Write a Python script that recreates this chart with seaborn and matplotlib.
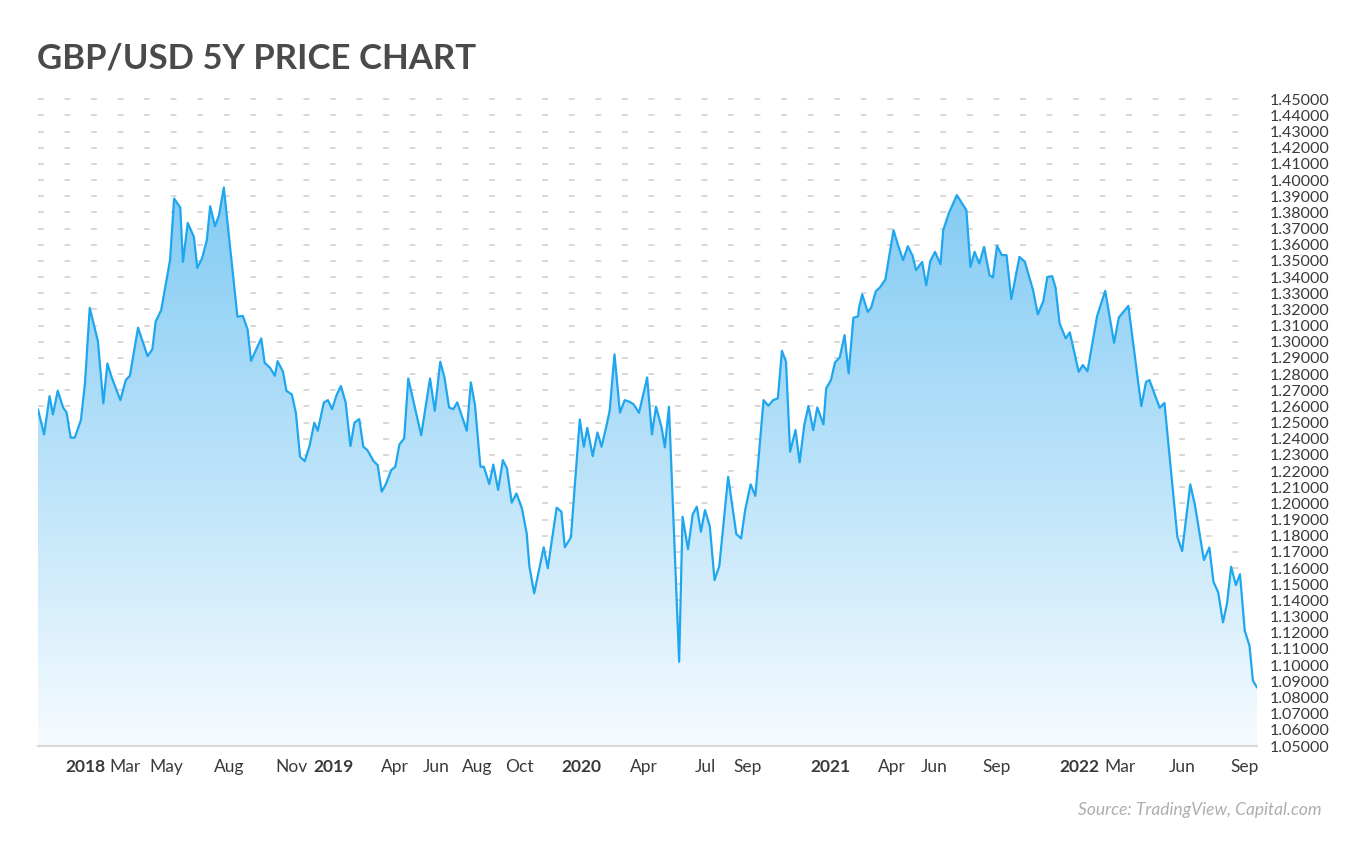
import numpy as np
import pandas as pd
import matplotlib
matplotlib.use("Agg")
import matplotlib.pyplot as plt
import matplotlib.dates as mdates
from matplotlib.colors import LinearSegmentedColormap
from matplotlib.ticker import FormatStrFormatter
import seaborn as sns

###########################
# DATA (weekly-ish turning points)
###########################

dates = [
    "2017-10-24", "2017-11-02", "2017-11-10", "2017-11-15", "2017-11-22", "2017-11-30",
    "2017-12-05", "2017-12-11", "2017-12-17", "2017-12-26", "2018-01-01", "2018-01-08",
    "2018-01-20", "2018-01-28", "2018-02-03", "2018-02-09", "2018-02-22", "2018-03-02",
    "2018-03-08", "2018-03-20", "2018-04-03", "2018-04-10", "2018-04-15", "2018-04-23",
    "2018-05-06", "2018-05-12", "2018-05-21", "2018-05-25", "2018-06-01", "2018-06-10",
    "2018-06-15", "2018-06-22", "2018-06-29", "2018-07-04", "2018-07-11", "2018-07-17",
    "2018-07-24", "2018-08-13", "2018-08-21", "2018-08-28", "2018-09-02", "2018-09-17",
    "2018-09-22", "2018-09-30", "2018-10-07", "2018-10-11", "2018-10-19", "2018-10-24",
    "2018-11-01", "2018-11-07", "2018-11-13", "2018-11-20", "2018-11-27", "2018-12-04",
    "2018-12-09", "2018-12-18", "2018-12-24", "2018-12-30", "2019-01-06", "2019-01-12",
    "2019-01-19", "2019-01-26", "2019-02-01", "2019-02-08", "2019-02-14", "2019-02-20",
    "2019-03-01", "2019-03-07", "2019-03-13", "2019-03-19", "2019-03-27", "2019-04-02",
    "2019-04-08", "2019-04-15", "2019-04-21", "2019-05-10", "2019-05-23", "2019-05-30",
    "2019-06-07", "2019-06-13", "2019-06-20", "2019-06-26", "2019-07-02", "2019-07-16",
    "2019-07-22", "2019-07-28", "2019-08-05", "2019-08-10", "2019-08-18", "2019-08-24",
    "2019-08-31", "2019-09-07", "2019-09-13", "2019-09-20", "2019-09-27", "2019-10-05",
    "2019-10-12", "2019-10-16", "2019-10-23", "2019-11-06", "2019-11-12", "2019-11-25",
    "2019-12-02", "2019-12-07", "2019-12-16", "2019-12-29", "2020-01-04", "2020-01-09",
    "2020-01-17", "2020-01-24", "2020-01-30", "2020-02-07", "2020-02-11", "2020-02-18",
    "2020-02-26", "2020-03-04", "2020-03-11", "2020-03-17", "2020-03-25", "2020-04-06",
    "2020-04-13", "2020-04-19", "2020-04-27", "2020-05-02", "2020-05-08", "2020-05-23",
    "2020-05-28", "2020-06-05", "2020-06-12", "2020-06-18", "2020-06-24", "2020-06-30",
    "2020-07-07", "2020-07-14", "2020-07-21", "2020-08-03", "2020-08-15", "2020-08-22",
    "2020-08-28", "2020-09-05", "2020-09-12", "2020-09-24", "2020-10-01", "2020-10-08",
    "2020-10-15", "2020-10-21", "2020-10-27", "2020-11-02", "2020-11-10", "2020-11-16",
    "2020-11-23", "2020-11-29", "2020-12-06", "2020-12-12", "2020-12-21", "2020-12-25",
    "2021-01-01", "2021-01-07", "2021-01-14", "2021-01-21", "2021-01-27", "2021-02-03",
    "2021-02-10", "2021-02-11", "2021-02-16", "2021-02-24", "2021-03-01", "2021-03-05",
    "2021-03-08", "2021-03-14", "2021-03-22", "2021-03-28", "2021-04-03", "2021-04-10",
    "2021-04-17", "2021-04-24", "2021-05-01", "2021-05-06", "2021-05-15", "2021-05-21",
    "2021-05-27", "2021-06-03", "2021-06-11", "2021-06-15", "2021-06-23", "2021-07-05",
    "2021-07-19", "2021-07-25", "2021-07-31", "2021-08-07", "2021-08-14", "2021-08-22",
    "2021-08-27", "2021-09-02", "2021-09-09", "2021-09-16", "2021-09-23", "2021-10-05",
    "2021-10-13", "2021-10-25", "2021-11-01", "2021-11-09", "2021-11-15", "2021-11-22",
    "2021-11-27", "2021-12-03", "2021-12-12", "2021-12-18", "2021-12-31", "2022-01-06",
    "2022-01-13", "2022-01-27", "2022-02-08", "2022-02-21", "2022-02-28", "2022-03-14",
    "2022-04-02", "2022-04-09", "2022-04-14", "2022-04-29", "2022-05-06", "2022-05-25",
    "2022-06-01", "2022-06-13", "2022-06-20", "2022-07-03", "2022-07-11", "2022-07-17",
    "2022-07-24", "2022-07-31", "2022-08-06", "2022-08-12", "2022-08-19", "2022-08-25",
    "2022-09-01", "2022-09-08", "2022-09-13", "2022-09-19",
]

price = [
    1.2582, 1.2427, 1.2664, 1.2551, 1.2697, 1.2592,
    1.2563, 1.2407, 1.2407, 1.2515, 1.2742, 1.3210,
    1.3004, 1.2619, 1.2866, 1.2783, 1.2639, 1.2763,
    1.2790, 1.3087, 1.2911, 1.2954, 1.3127, 1.3196,
    1.3505, 1.3886, 1.3830, 1.3494, 1.3735, 1.3649,
    1.3457, 1.3515, 1.3628, 1.3838, 1.3715, 1.3783,
    1.3954, 1.3155, 1.3160, 1.3076, 1.2882, 1.3021,
    1.2870, 1.2839, 1.2790, 1.2880, 1.2814, 1.2697,
    1.2674, 1.2557, 1.2289, 1.2262, 1.2357, 1.2499,
    1.2450, 1.2625, 1.2639, 1.2583, 1.2674, 1.2726,
    1.2625, 1.2355, 1.2500, 1.2522, 1.2351, 1.2330,
    1.2262, 1.2237, 1.2073, 1.2118, 1.2207, 1.2227,
    1.2365, 1.2402, 1.2773, 1.2422, 1.2773, 1.2573,
    1.2876, 1.2783, 1.2594, 1.2583, 1.2625, 1.2450,
    1.2749, 1.2608, 1.2227, 1.2227, 1.2120, 1.2240,
    1.2084, 1.2268, 1.2217, 1.2005, 1.2062, 1.1970,
    1.1815, 1.1609, 1.1444, 1.1729, 1.1600, 1.1974,
    1.1949, 1.1729, 1.1791, 1.2520, 1.2351, 1.2468,
    1.2293, 1.2439, 1.2351, 1.2495, 1.2577, 1.2922,
    1.2561, 1.2639, 1.2629, 1.2614, 1.2561, 1.2779,
    1.2427, 1.2599, 1.2474, 1.2347, 1.2599, 1.1021,
    1.1918, 1.1718, 1.1934, 1.1980, 1.1825, 1.1959,
    1.1860, 1.1526, 1.1613, 1.2165, 1.1811, 1.1784,
    1.1959, 1.2118, 1.2047, 1.2639, 1.2604, 1.2639,
    1.2650, 1.2944, 1.2876, 1.2320, 1.2454, 1.2254,
    1.2489, 1.2602, 1.2454, 1.2594, 1.2489, 1.2711,
    1.2763, 1.2872, 1.2903, 1.3041, 1.2804, 1.3148,
    1.3158, 1.3205, 1.3293, 1.3185, 1.3210, 1.3268,
    1.3313, 1.3336, 1.3385, 1.3540, 1.3690, 1.3592,
    1.3505, 1.3591, 1.3532, 1.3443, 1.3494, 1.3350,
    1.3500, 1.3556, 1.3480, 1.3690, 1.3793, 1.3907,
    1.3814, 1.3463, 1.3556, 1.3484, 1.3587, 1.3412,
    1.3398, 1.3594, 1.3536, 1.3536, 1.3264, 1.3525,
    1.3494, 1.3319, 1.3169, 1.3251, 1.3401, 1.3406,
    1.3336, 1.3113, 1.3021, 1.3058, 1.2814, 1.2856,
    1.2818, 1.3158, 1.3315, 1.2994, 1.3150, 1.3222,
    1.2602, 1.2752, 1.2763, 1.2592, 1.2622, 1.1794,
    1.1706, 1.2118, 1.1986, 1.1650, 1.1728, 1.1516,
    1.1450, 1.1265, 1.1382, 1.1609, 1.1495, 1.1563,
    1.1213, 1.1120, 1.0904, 1.0862,
]

tick_dates = ["2018-01-01", "2018-03-01", "2018-05-01", "2018-08-01", "2018-11-01",
              "2019-01-01", "2019-04-01", "2019-06-01", "2019-08-01", "2019-10-01",
              "2020-01-01", "2020-04-01", "2020-07-01", "2020-09-01",
              "2021-01-01", "2021-04-01", "2021-06-01", "2021-09-01",
              "2022-01-01", "2022-03-01", "2022-06-01", "2022-09-01"]
tick_labels = ["2018", "Mar", "May", "Aug", "Nov",
               "2019", "Apr", "Jun", "Aug", "Oct",
               "2020", "Apr", "Jul", "Sep",
               "2021", "Apr", "Jun", "Sep",
               "2022", "Mar", "Jun", "Sep"]
y_ticks = np.round(np.arange(1.05, 1.4501, 0.01), 2)

df = pd.DataFrame({"date": pd.to_datetime(dates), "price": price})

###########################
# PLOT
###########################

sns.set_style("white")
plt.rcParams["font.family"] = ["Lato", "DejaVu Sans"]

line_col = "#1ea6ef"
fig = plt.figure(figsize=(13.5, 8.47), dpi=100)
ax = fig.add_axes([38 / 1350, 1 - 746 / 847, (1257 - 38) / 1350, 650 / 847])

# gradient fill under the line
fill = ax.fill_between(df["date"], df["price"], 1.05, facecolor="none", edgecolor="none")
x_num = mdates.date2num(df["date"])
cmap = LinearSegmentedColormap.from_list("blue_fade", ["#f6fbff", "#b9e2f9", "#82caf4"])
img = ax.imshow(np.linspace(0, 1, 256).reshape(-1, 1), cmap=cmap, aspect="auto",
                origin="lower", extent=[x_num[0], x_num[-1], 1.05, 1.40], zorder=1)
img.set_clip_path(fill.get_paths()[0], transform=ax.transData)

sns.lineplot(data=df, x="date", y="price", color=line_col, linewidth=1.6, ax=ax, zorder=3)

ax.set_xlim(df["date"].iloc[0], df["date"].iloc[-1])
ax.set_ylim(1.05, 1.452)

# y axis on the right, dashed grid at every cent
ax.set_yticks(y_ticks)
ax.yaxis.set_major_formatter(FormatStrFormatter("%.5f"))
ax.yaxis.tick_right()
ax.yaxis.grid(True, linestyle=(0, (3.2, 11.5)), color="#d4d4d4", linewidth=1.3)
ax.xaxis.grid(False)
ax.tick_params(axis="y", length=0, pad=9, labelsize=11.5, labelcolor="#3a3a3a")

ax.set_xticks(pd.to_datetime(tick_dates))
ax.set_xticklabels(tick_labels)
ax.tick_params(axis="x", length=0, pad=9, labelsize=12.5, labelcolor="#3a3a3a")
for lab in ax.get_xticklabels():
    if lab.get_text().isdigit():
        lab.set_fontweight("bold")

ax.set_xlabel("")
ax.set_ylabel("")
for s in ["top", "left", "right"]:
    ax.spines[s].set_visible(False)
ax.spines["bottom"].set_color("#d9d9d9")
ax.spines["bottom"].set_linewidth(1.5)

fig.text(37 / 1350, 1 - 58 / 847, "GBP/USD 5Y PRICE CHART", fontsize=25,
         fontweight="bold", color="#4a4a4a", va="center", ha="left")
fig.text(1322 / 1350, 1 - 810 / 847, "Source: TradingView, Capital.com", fontsize=12.5,
         style="italic", color="#aeaeae", va="center", ha="right")

fig.savefig("out.png", dpi=100)
